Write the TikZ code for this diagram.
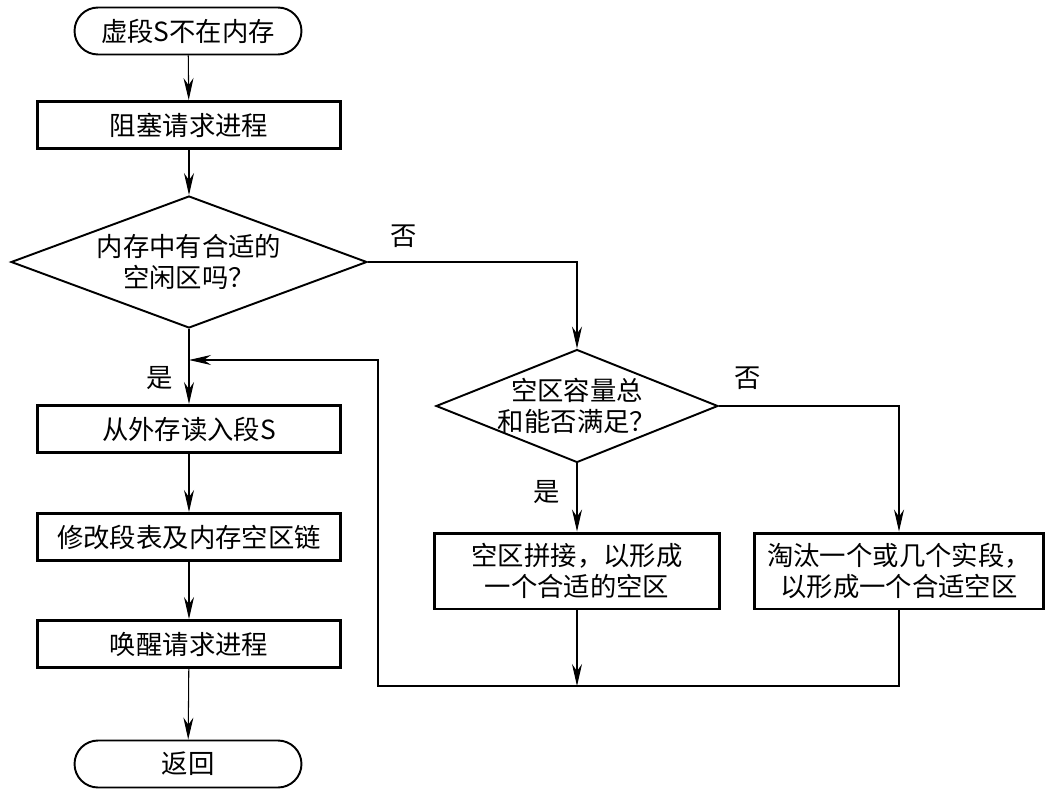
\documentclass[tikz,border=0pt]{standalone}
\usepackage{fontspec}
\newfontfamily\cjk{Noto Sans CJK SC}
\usetikzlibrary{shapes.geometric,arrows.meta}
\tikzset{
  proc/.style={draw, line width=1.7pt, minimum width=6.06cm, minimum height=0.94cm, align=center, inner sep=0pt},
  term/.style={draw, line width=1.1pt, rounded corners=0.47cm, minimum width=4.54cm, minimum height=0.94cm, inner sep=0pt},
  decide/.style={draw, diamond, line width=1.1pt, inner sep=0pt, align=center},
  lbl/.style={inner sep=0pt},
}
\begin{document}
\begin{tikzpicture}[x=0.02cm, y=-0.02cm, >={Stealth[length=4.4mm,width=2mm]}, line width=0.6pt,
  every node/.style={font=\cjk\fontsize{15pt}{17.6pt}\selectfont}]
\useasboundingbox (0,0) rectangle (1051,808);
% main column
\node[term] (start) at (188,31) {虚段S不在内存};
\node[proc] (block) at (189,125) {阻塞请求进程};
\node[decide, aspect=2.7, minimum width=7.12cm, minimum height=2.64cm] (fit) at (189,262) {内存中有合适的\\空闲区吗？};
\node[proc] (load) at (189,429) {从外存读入段S};
\node[proc] (table) at (189,537) {修改段表及内存空区链};
\node[proc] (wake) at (189,644) {唤醒请求进程};
\node[term] (ret) at (188,764) {返回};
% right branch
\node[decide, aspect=2.5, inner sep=-3pt, minimum width=5.64cm, minimum height=2.26cm] (total) at (577,406) {空区容量总\\和能否满足？};
\node[proc, minimum width=5.7cm, minimum height=1.52cm] (merge) at (577,571) {空区拼接，以形成\\一个合适的空区};
\node[proc, minimum width=5.78cm, minimum height=1.52cm] (swap) at (899,571) {淘汰一个或几个实段，\\以形成一个合适空区};
% labels
\node[lbl] (no1) at (404,236) {否};
\node[lbl] (yes1) at (160,378) {是};
\node[lbl] (no2) at (748,378) {否};
\node[lbl] (yes2) at (547,492) {是};
\coordinate (join) at (577,686);
\coordinate (back) at (378,686);
\coordinate (entry) at (189,360);
% connectors
\draw[->] (start) -- (block);
\draw[->] (block) -- (fit);
\draw[->] (fit) -- (load);
\draw[->] (load) -- (table);
\draw[->] (table) -- (wake);
\draw[->] (wake) -- (ret);
\draw[->] (fit.east) -| (total.north);
\draw[->] (total) -- (merge);
\draw[->] (total.east) -| (swap.north);
\draw[->] (merge) -- (join);
\draw[->] (swap.south) |- (back) |- (entry);
\end{tikzpicture}
\end{document}
